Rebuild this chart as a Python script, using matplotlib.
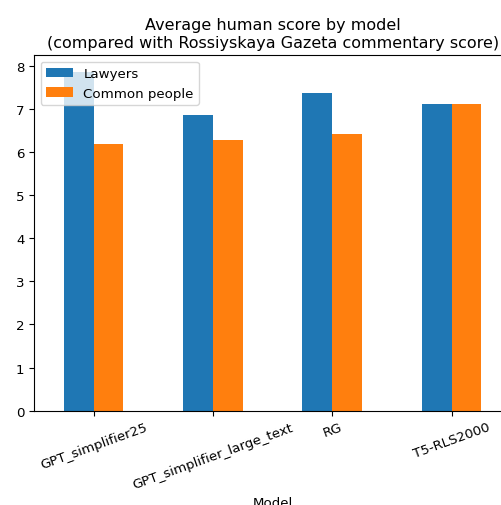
import matplotlib
matplotlib.use("Agg")
import matplotlib.pyplot as plt
import pandas as pd

# --- data ---
models = ["GPT_simplifier25", "GPT_simplifier_large_text", "RG", "T5-RLS2000"]
lawyers = [7.86, 6.86, 7.36, 7.11]
common_people = [6.19, 6.28, 6.42, 7.11]

df = pd.DataFrame({"Lawyers": lawyers, "Common people": common_people}, index=models)
df.index.name = "Model"

plt.rcParams["font.size"] = 9.6

fig = plt.figure(figsize=(5.02, 5.06), dpi=100)
# axes runs past the right edge, as in the cropped reference
ax = fig.add_axes([0.0677, 0.1864, 0.9508, 0.703])
df.plot(kind="bar", ax=ax, rot=20)
ax.set_title("Average human score by model\n(compared with Rossiyskaya Gazeta commentary score)")
ax.legend(loc="upper left")

fig.savefig("out.png", dpi=100)
